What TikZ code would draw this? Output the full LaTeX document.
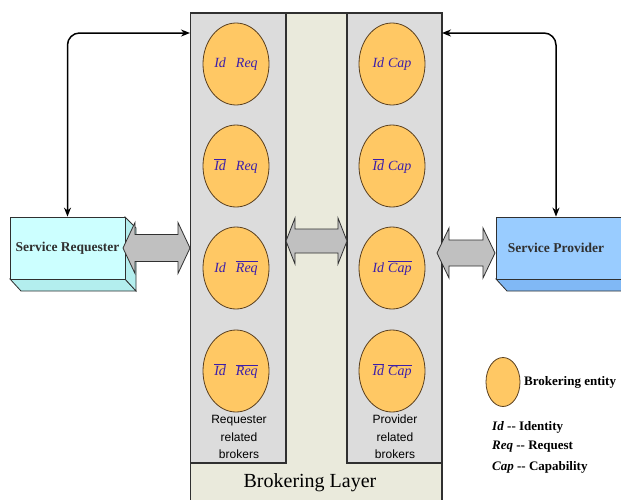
\documentclass[tikz,border=0pt]{standalone}
\usepackage{fontspec}
\setmainfont{Liberation Serif}
\newfontfamily\arialf{Liberation Sans}
\usetikzlibrary{arrows.meta,shapes.geometric}
\definecolor{ent}{HTML}{FFC864}
\definecolor{entline}{HTML}{5A4020}
\definecolor{panel}{HTML}{DCDCDC}
\definecolor{layerbg}{HTML}{EAEADC}
\definecolor{txtc}{RGB}{60,30,170}
\definecolor{reqc}{HTML}{CCFFFF}
\definecolor{reqd}{HTML}{B3EEEE}
\definecolor{provc}{HTML}{99CCFF}
\definecolor{provd}{HTML}{80B8F5}
\definecolor{arrg}{HTML}{C0C0C0}
\definecolor{edge}{HTML}{303030}
\newcommand\ovl[1]{$\overline{\mbox{#1}}$}
\newcommand\dblarrow[6]{\draw[bigarrow] (#1,#3) -- (#1+#6,#3-#4) -- (#1+#6,#3-#5) -- (#2-#6,#3-#5) -- (#2-#6,#3-#4) -- (#2,#3) -- (#2-#6,#3+#4) -- (#2-#6,#3+#5) -- (#1+#6,#3+#5) -- (#1+#6,#3+#4) -- cycle;}
\begin{document}
\begin{tikzpicture}[x=1pt,y=-1pt,
  entity/.style={ellipse, draw=entline, fill=ent, minimum width=66pt, minimum height=82pt, inner sep=0pt, line width=0.8pt, font=\fontsize{14}{15}\itshape\selectfont, text=txtc},
  panelbox/.style={draw=edge, fill=panel, line width=1.1pt},
  bigarrow/.style={draw=edge, fill=arrg, line width=0.8pt},
  conn/.style={draw=black, line width=1.5pt, rounded corners=12pt, {Stealth[length=9pt,width=7pt]}-{Stealth[length=9pt,width=7pt]}},
  boxtext/.style={font=\fontsize{13.5}{16}\bfseries\selectfont, text=edge},
  plabel/.style={font=\arialf\fontsize{12}{17.5}\selectfont, align=center, text=black},
  legend/.style={font=\fontsize{13}{15}\bfseries\selectfont, anchor=west, inner sep=0pt}
]
\useasboundingbox (0,0) rectangle (621,499);
% brokering layer
\fill[white] (0,0) rectangle (621,499);
\draw[fill=layerbg, draw=edge, line width=1.1pt] (190.5,13) rectangle (442,510);
\draw[panelbox] (190.5,13) rectangle (286,463);
\draw[panelbox] (347,13) rectangle (442,463);
\node[font=\fontsize{20}{22}\selectfont] (layer) at (310,483) {Brokering Layer};
% entities
\node[entity] (r1) at (236,64) {Id\hspace{10pt}Req};
\node[entity] (r2) at (236,166) {\ovl{Id}\hspace{10pt}Req};
\node[entity] (r3) at (236,268) {Id\hspace{10pt}\ovl{Req}};
\node[entity] (r4) at (236,371) {\ovl{Id}\hspace{10pt}\ovl{Req}};
\node[entity] (p1) at (392,64) {Id\hspace{4pt}Cap};
\node[entity] (p2) at (392,166) {\ovl{Id}\hspace{4pt}Cap};
\node[entity] (p3) at (392,268) {Id\hspace{4pt}\ovl{Cap}};
\node[entity] (p4) at (392,371) {\ovl{Id}\hspace{4pt}\ovl{Cap}};
\node[plabel] (rl) at (239,437) {Requester\\related\\brokers};
\node[plabel] (pl) at (395,437) {Provider\\related\\brokers};
% service requester (3D box)
\fill[reqd, draw=edge, line width=0.8pt] (10,279) -- (125,279) -- (136,291) -- (21,291) -- cycle;
\fill[reqd, draw=edge, line width=0.8pt] (125,217) -- (136,228) -- (136,291) -- (125,279) -- cycle;
\node[draw=edge, fill=reqc, line width=0.8pt, minimum width=115pt, minimum height=62pt, inner sep=0pt, boxtext] (req) at (67.5,248) {Service Requester};
% service provider (3D box)
\fill[provd, draw=edge, line width=0.8pt] (496,279) -- (630,279) -- (630,291) -- (507,291) -- cycle;
\node[draw=edge, fill=provc, line width=0.8pt, minimum width=134pt, minimum height=62pt, inner sep=0pt] (prov) at (563,248) {};
\node[boxtext] (provtxt) at (556,248) {Service Provider};
% big double arrows
\dblarrow{123}{190}{248}{25.5}{13.5}{12}
\dblarrow{286}{347}{241}{23}{12}{9}
\dblarrow{437}{495}{253}{25}{13}{12}
% connectors
\coordinate (lt) at (190,33);
\coordinate (rt) at (442,33);
\draw[conn] (lt) -| (req.north);
\draw[conn] (rt) -| (provtxt |- prov.north);
% legend
\node[ellipse, draw=entline, fill=ent, line width=0.8pt, minimum width=34pt, minimum height=49pt, inner sep=0pt] (leg) at (503,382) {};
\node[legend] (legt) at (524,382) {Brokering entity};
\node[legend] (l1) at (492,427) {\textit{Id} -{}- Identity};
\node[legend] (l2) at (492,447) {\textit{Req} -{}- Request};
\node[legend] (l3) at (492,467) {\textit{Cap} -{}- Capability};
\end{tikzpicture}
\end{document}
